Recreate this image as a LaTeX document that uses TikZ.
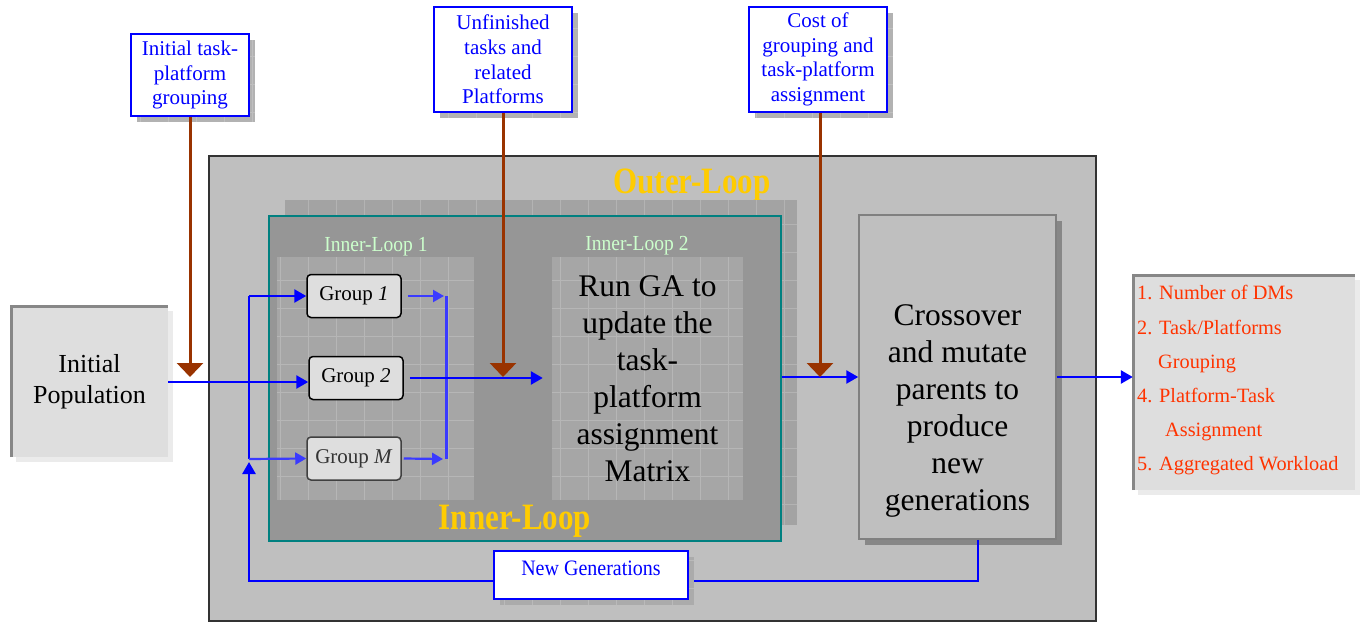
\documentclass[tikz,border=0pt]{standalone}
\usepackage{fontspec}
\setmainfont{Liberation Serif}
\usetikzlibrary{arrows.meta}
\definecolor{brn}{HTML}{993300}
\definecolor{gold}{HTML}{FFCC00}
\definecolor{pgreen}{HTML}{CCFFCC}
\definecolor{lblue}{HTML}{3A3AFF}
\definecolor{outred}{HTML}{FF3300}
\definecolor{tealc}{HTML}{008080}
\newcommand\texrect[3]{%
  \fill[#3] #1 rectangle #2;
  \begin{scope}\clip #1 rectangle #2;
  \draw[white,opacity=0.18,line width=0.8pt,step=28pt] #1 grid #2;
  \end{scope}}
\begin{document}
\begin{tikzpicture}[x=1pt,y=-1pt,
  topbox/.style={draw=blue,line width=2.2pt,fill=white,text=blue,align=center,
    font=\fontsize{21}{24.7}\selectfont,inner sep=0pt},
  grpbox/.style={draw=black,line width=1.5pt,fill=black!13,rounded corners=4pt,
    font=\fontsize{21}{25}\selectfont,inner sep=0pt,minimum width=94pt,minimum height=43pt},
  brownarr/.style={draw=brn,line width=3pt,-{Triangle[length=14pt,width=26pt]}},
  bluearr/.style={draw=blue,line width=2.6pt,-{Triangle[length=12pt,width=13pt]}},
  lbluearr/.style={draw=lblue,line width=2.2pt,-{Triangle[length=11pt,width=12pt]}},
  looplbl/.style={text=gold,font=\bfseries\fontsize{31}{36}\selectfont,inner sep=0pt},
  subl/.style={text=pgreen,font=\fontsize{19.5}{22}\selectfont,inner sep=0pt},
  bigtxt/.style={align=center,font=\fontsize{31.5}{37}\selectfont,inner sep=0pt}]
\useasboundingbox (0,0) rectangle (1360,623);
\fill[white] (0,0) rectangle (1360,623);

% outer box
\node[draw=black!80,line width=1.5pt,fill=black!25,minimum width=887pt,minimum height=465pt,inner sep=0pt] (outer) at (652.5,388.5) {};
\node[looplbl] (outerlbl) at (692,185) {\scalebox{1}[1.2]{Outer-Loop}};

% inner loop box with textured shadow
\texrect{(285,200)}{(797,525)}{black!36}
\node[draw=tealc,line width=1.5pt,fill=black!41,minimum width=512pt,minimum height=325pt,inner sep=0pt] (inner) at (525,378.5) {};
\texrect{(277,257)}{(474,500)}{black!35}
\node[subl] (il1) at (376,247) {\scalebox{1}[1.1]{Inner-Loop 1}};
\texrect{(552,257)}{(743,500)}{black!35}
\node[subl] (il2) at (637,246) {\scalebox{1}[1.1]{Inner-Loop 2}};
\node[bigtxt,minimum width=191pt,minimum height=243pt] (ga) at (647.5,378.5) {Run GA to\\update the\\task-\\platform\\assignment\\Matrix};
\node[looplbl] (innerlbl) at (515,521) {\scalebox{1}[1.2]{Inner-Loop}};

% groups
\node[grpbox] (G1) at (354,296) {Group \textit{1}};
\node[grpbox] (G2) at (356,378) {Group \textit{2}};
\node[grpbox,draw=black!75,text=black!80] (GM) at (354,458.5) {Group \textit{M}};

% crossover
\fill[black!47] (865,221) rectangle (1062,545);
\node[draw=black!50,line width=1.5pt,fill=black!25,minimum width=197pt,minimum height=324pt,inner sep=0pt] (cross) at (957.5,377) {};
\node[bigtxt] (crosst) at (957.5,410.5) {Crossover\\and mutate\\parents to\\produce\\new\\generations};

% initial population
\fill[black!8] (16,311) rectangle (173,462);
\node[fill=black!13,minimum width=157pt,minimum height=151pt,inner sep=0pt,align=center,
  font=\fontsize{26}{31}\selectfont] (init) at (89.5,381.5) {Initial\\Population};
\draw[black!47,line width=3pt] (11,457) -- (11,306) -- (168,306);

% output box
\fill[black!8] (1138,280) rectangle (1360,495);
\node[fill=black!13,minimum width=222pt,minimum height=215pt,inner sep=0pt] (out) at (1244,382.5) {};
\draw[black!47,line width=3pt] (1133,490) -- (1133,275) -- (1355,275);
\node[anchor=north west,inner sep=0pt,align=left,text=outred,font=\fontsize{20.3}{34.2}\selectfont] (outt) at (1137,285.5)
  {1. Number of DMs\\2. Task/Platforms\\\hspace*{21pt}Grouping\\4. Platform-Task\\\hspace*{28pt}Assignment\\5. Aggregated Workload};

% top input boxes
\texrect{(137,40)}{(255,122)}{black!30}
\node[topbox,minimum width=118pt,minimum height=82pt] (A) at (190,75) {Initial task-\\platform\\grouping};
\texrect{(440,13)}{(578,118)}{black!30}
\node[topbox,minimum width=138pt,minimum height=105pt] (B) at (503,59.5) {Unfinished\\tasks and\\related\\Platforms};
\texrect{(755,13)}{(893,118)}{black!30}
\node[topbox,minimum width=138pt,minimum height=105pt] (C) at (818,59.5) {Cost of\\grouping and\\task-platform\\assignment};

% coordinates
\coordinate (jl1) at (249,296);
\coordinate (jlM) at (249,459);
\coordinate (jr1) at (446,296);
\coordinate (jrM) at (446,459);
\coordinate (lpR) at (978,581);
\coordinate (lpL) at (249,581);
\coordinate (pA) at (190,377);
\coordinate (pB) at (503,377);
\coordinate (pC) at (820,377);

% blue connectors
\draw[bluearr] (init.east |- 0,382) -- (G2.west |- 0,382);
\draw[blue,line width=2.6pt] (jlM) -- (jl1);
\draw[bluearr] (jl1) -- (G1.west);
\draw[lbluearr] (jlM) -- (GM.west);
\draw[lbluearr] ([xshift=6pt]G1.east) -- ([xshift=-2pt]jr1);
\draw[lblue,line width=3pt] (jr1) -- (jrM);
\draw[lbluearr] ([xshift=2pt]GM.east) -- ([xshift=-3pt]jrM);
\draw[bluearr] ([xshift=6pt]G2.east) -- ([xshift=-9pt]ga.west |- G2.east);
\draw[bluearr] (inner.east |- cross.west) -- (cross.west);
\draw[bluearr] (cross.east) -- (cross.east -| out.west);
\draw[bluearr] (cross.south -| lpR) -- (lpR) -- (lpL) -- ([yshift=-3pt]jlM);

% new generations box
\texrect{(500,557)}{(694,605)}{black!33}
\node[topbox,minimum width=194pt,minimum height=48pt] (ng) at (591,575) {};
\node[text=blue,font=\fontsize{20}{24}\selectfont,inner sep=0pt] (ngt) at (591,568) {\scalebox{1}[1.1]{New Generations}};

% brown input arrows
\draw[brownarr] (A.south) -- (pA);
\draw[brownarr] (B.south) -- (pB);
\draw[brownarr] (C.south -| pC) -- (pC);
\end{tikzpicture}
\end{document}
